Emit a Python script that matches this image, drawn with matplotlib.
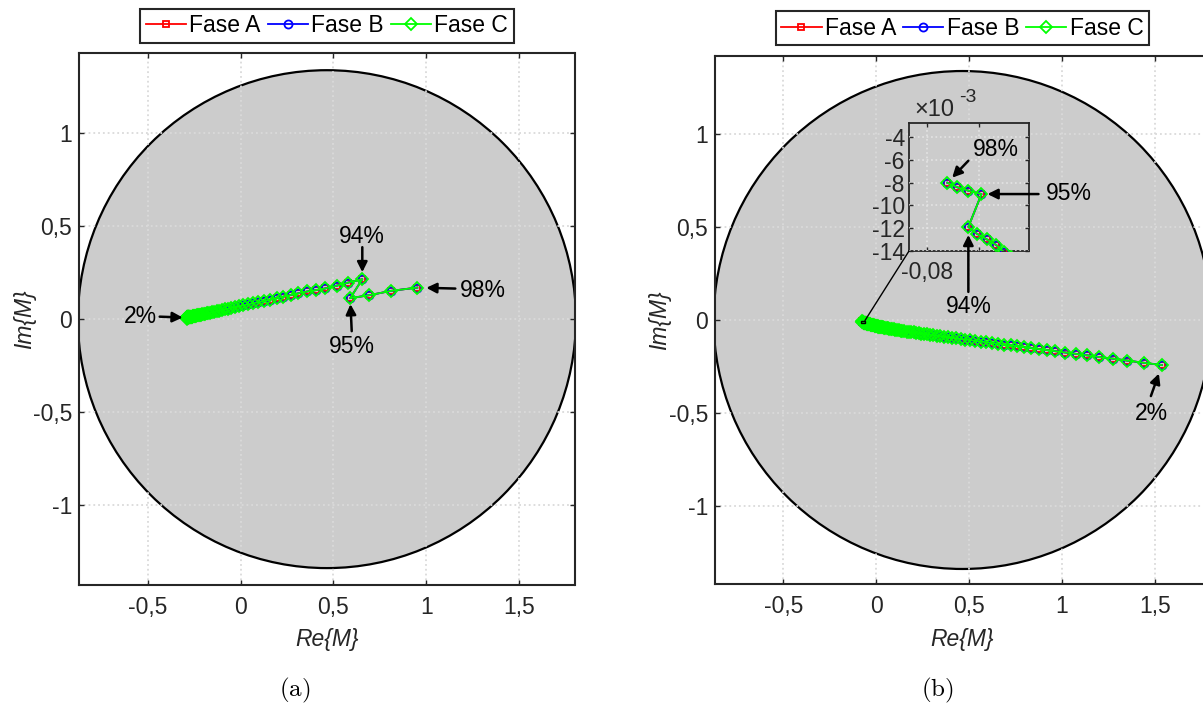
import matplotlib
matplotlib.use("Agg")
import matplotlib.pyplot as plt
from matplotlib.patches import Circle, Rectangle, ConnectionPatch

plt.rcParams['font.family'] = ['Liberation Sans', 'DejaVu Sans']

# ---------------------------------------------------------------- data
# loading percentage of each point (2 % ... 98 %)
pct = list(range(2, 99))

# (a) trajectory of M in the complex plane
re_a = [-0.290, -0.290, -0.290, -0.290, -0.290, -0.290, -0.290, -0.290, -0.290, -0.290,
        -0.289, -0.289, -0.289, -0.289, -0.289, -0.289, -0.288, -0.288, -0.288, -0.288,
        -0.287, -0.287, -0.287, -0.287, -0.286, -0.286, -0.286, -0.285, -0.285, -0.285,
        -0.284, -0.284, -0.283, -0.283, -0.282, -0.282, -0.281, -0.280, -0.279, -0.278,
        -0.277, -0.276, -0.275, -0.273, -0.272, -0.270, -0.268, -0.266, -0.263, -0.261,
        -0.258, -0.255, -0.252, -0.248, -0.244, -0.240, -0.235, -0.230, -0.225, -0.219,
        -0.213, -0.206, -0.199, -0.191, -0.183, -0.173, -0.164, -0.153, -0.141, -0.129,
        -0.115, -0.101, -0.085, -0.068, -0.050, -0.030, -0.009, 0.014, 0.039, 0.065,
        0.094, 0.125, 0.158, 0.194, 0.230, 0.270, 0.311, 0.359, 0.404, 0.454,
        0.517, 0.580, 0.655, 0.590, 0.693, 0.808, 0.951]
im_a = [0.008, 0.008, 0.008, 0.008, 0.008, 0.008, 0.008, 0.008, 0.008, 0.008,
        0.008, 0.008, 0.008, 0.008, 0.008, 0.008, 0.008, 0.008, 0.008, 0.008,
        0.008, 0.008, 0.008, 0.008, 0.009, 0.009, 0.009, 0.009, 0.009, 0.009,
        0.009, 0.009, 0.009, 0.009, 0.010, 0.010, 0.010, 0.010, 0.010, 0.010,
        0.011, 0.011, 0.011, 0.012, 0.012, 0.012, 0.013, 0.013, 0.014, 0.014,
        0.015, 0.015, 0.016, 0.017, 0.018, 0.019, 0.020, 0.021, 0.022, 0.023,
        0.025, 0.026, 0.028, 0.029, 0.031, 0.033, 0.035, 0.038, 0.040, 0.043,
        0.046, 0.049, 0.053, 0.056, 0.060, 0.064, 0.069, 0.074, 0.079, 0.085,
        0.091, 0.098, 0.105, 0.113, 0.121, 0.130, 0.139, 0.149, 0.156, 0.165,
        0.180, 0.197, 0.215, 0.113, 0.129, 0.152, 0.170]

# (b) trajectory of M in the complex plane
re_b = [1.538, 1.439, 1.349, 1.274, 1.199, 1.134, 1.073, 1.019, 0.965, 0.919,
        0.874, 0.835, 0.795, 0.759, 0.723, 0.687, 0.655, 0.623, 0.593, 0.562,
        0.533, 0.506, 0.480, 0.455, 0.431, 0.409, 0.387, 0.366, 0.346, 0.327,
        0.308, 0.291, 0.274, 0.258, 0.243, 0.228, 0.214, 0.201, 0.188, 0.175,
        0.164, 0.152, 0.141, 0.131, 0.121, 0.112, 0.103, 0.094, 0.086, 0.078,
        0.070, 0.063, 0.056, 0.049, 0.043, 0.037, 0.031, 0.026, 0.021, 0.016,
        0.011, 0.007, 0.003, 0.000, -0.0040, -0.0080, -0.0120, -0.0158, -0.0194, -0.0228,
        -0.0260, -0.0290, -0.0320, -0.0349, -0.0376, -0.0402, -0.0427, -0.0451, -0.0474, -0.0496,
        -0.0517, -0.0537, -0.0556, -0.0574, -0.0591, -0.0608, -0.0624, -0.0639, -0.0654, -0.0668,
        -0.0686, -0.0705, -0.0721, -0.0696, -0.0721, -0.0742, -0.0761]
im_b = [-0.2425, -0.230, -0.218, -0.208, -0.199, -0.190, -0.182, -0.175, -0.168, -0.162,
        -0.156, -0.151, -0.146, -0.141, -0.137, -0.132, -0.128, -0.124, -0.120, -0.116,
        -0.112, -0.108, -0.105, -0.102, -0.099, -0.096, -0.093, -0.090, -0.087, -0.085,
        -0.082, -0.080, -0.078, -0.075, -0.073, -0.071, -0.069, -0.067, -0.065, -0.064,
        -0.062, -0.060, -0.058, -0.057, -0.055, -0.054, -0.052, -0.051, -0.049, -0.048,
        -0.047, -0.045, -0.044, -0.043, -0.041, -0.040, -0.039, -0.038, -0.037, -0.036,
        -0.035, -0.034, -0.033, -0.032, -0.031, -0.030, -0.029, -0.028, -0.0275, -0.0265,
        -0.0257, -0.0249, -0.0240, -0.0230, -0.0225, -0.0219, -0.0212, -0.0204, -0.0197, -0.0191,
        -0.0185, -0.0178, -0.0173, -0.0166, -0.0161, -0.0156, -0.0151, -0.0146, -0.0141, -0.0135,
        -0.0130, -0.0125, -0.0119, -0.0090, -0.0087, -0.0084, -0.0080]

phases = ['Fase A', 'Fase B', 'Fase C']
phase_colors = ['#ff0000', '#0000ff', '#00ff00']
phase_markers = ['s', 'o', 'D']
phase_msize = [5.0, 5.8, 5.8]

# stability region
circle_center = 0.4645
circle_radius = 1.34

xticks = [-0.5, 0, 0.5, 1, 1.5]
xtick_labels = ['-0,5', '0', '0,5', '1', '1,5']
yticks = [-1, -0.5, 0, 0.5, 1]
ytick_labels = ['-1', '-0,5', '0', '0,5', '1']

inset_xticks = [-0.08, -0.07]
inset_xtick_labels = ['-0,08', '']
inset_yticks = [-0.014, -0.012, -0.010, -0.008, -0.006, -0.004]
inset_ytick_labels = ['-14', '-12', '-10', '-8', '-6', '-4']
inset_xlim = (-0.0834, -0.0605)
inset_ylim = (-0.01403, -0.00275)

# ---------------------------------------------------------------- figure
W, H = 1203, 703
FS = 16.5
DARK = '#262626'
fig = plt.figure(figsize=(W / 100, H / 100), dpi=100)


def px_box(x0, x1, ytop, ybot):
    return [x0 / W, 1 - ybot / H, (x1 - x0) / W, (ybot - ytop) / H]


def plot_phases(ax, re, im):
    for name, c, m, ms in zip(phases, phase_colors, phase_markers, phase_msize):
        ax.plot(re, im, color=c, lw=1.3, marker=m, ms=ms, mfc='none', mec=c,
                mew=1.3, zorder=3, label=name)


def style_main(ax, ylim, xlab_y, ylab_x):
    ax.set_xlim(-0.868, 1.797)
    ax.set_ylim(*ylim)
    ax.add_patch(Circle((circle_center, 0), circle_radius, facecolor='#cccccc',
                        edgecolor='black', lw=1.6, zorder=1))
    ax.set_xticks(xticks)
    ax.set_xticklabels(xtick_labels)
    ax.set_yticks(yticks)
    ax.set_yticklabels(ytick_labels)
    ax.tick_params(direction='in', length=3.6, width=1.0, top=True, right=True,
                   labelsize=FS, colors=DARK)
    ax.tick_params(axis='x', pad=8)
    ax.tick_params(axis='y', pad=5)
    ax.grid(True, color='#dadada', ls=':', lw=1.3)
    ax.set_axisbelow(False)
    for s in ax.spines.values():
        s.set_linewidth(1.5)
        s.set_color(DARK)
        s.set_zorder(5)
    xl = ax.set_xlabel('Re{M}', fontsize=FS, fontstyle='italic', color=DARK)
    ax.xaxis.set_label_coords(0.5, xlab_y)
    xl.set_va('center')
    yl = ax.set_ylabel('Im{M}', fontsize=FS, fontstyle='italic', color=DARK)
    ax.yaxis.set_label_coords(ylab_x, 0.5)
    yl.set_va('center')
    leg = ax.legend(loc='lower center', bbox_to_anchor=(0.5, 1.0), ncol=3,
                    fontsize=FS, frameon=True, fancybox=False, framealpha=1,
                    edgecolor=DARK, handlelength=1.75, handletextpad=0.15,
                    columnspacing=0.3, borderpad=0.25, borderaxespad=0.45)
    leg.get_frame().set_linewidth(1.5)


def pointer(ax, re, im, p, tail, gap_px, text_off):
    i = pct.index(p)
    xy = (re[i], im[i])
    ax.annotate('', xy=xy, xytext=tail, textcoords='offset pixels',
                arrowprops=dict(arrowstyle='-|>', color='k', lw=1.8,
                                mutation_scale=15, shrinkA=0,
                                shrinkB=gap_px * 0.72),
                annotation_clip=False, zorder=6)
    ax.annotate(f'{p}%', xy=xy, xytext=text_off, textcoords='offset pixels',
                ha='center', va='center', fontsize=FS, color='k',
                annotation_clip=False, zorder=6)


# ------------------------------------------------------------ panel (a)
ax_a = fig.add_axes(px_box(79.3, 574.5, 53.3, 585.0))
plot_phases(ax_a, re_a, im_a)
style_main(ax_a, (-1.431, 1.431), -0.103, -0.110)
pointer(ax_a, re_a, im_a, 2, (-27, 1), 4, (-46, 1))
pointer(ax_a, re_a, im_a, 94, (0, 32), 7, (0, 43))
pointer(ax_a, re_a, im_a, 95, (1.5, -33), 6, (1.5, -48))
pointer(ax_a, re_a, im_a, 98, (38, -1), 9, (66, -3))

# ------------------------------------------------------------ panel (b)
ax_b = fig.add_axes(px_box(715.0, 1210.0, 55.7, 584.3))
plot_phases(ax_b, re_b, im_b)
style_main(ax_b, (-1.4225, 1.4225), -0.105, -0.111)
pointer(ax_b, re_b, im_b, 2, (-11, -31), 9, (-10, -48))

# zoom window on the end of the trajectory
ax_b.add_patch(Rectangle((inset_xlim[0], inset_ylim[0]),
                         inset_xlim[1] - inset_xlim[0],
                         inset_ylim[1] - inset_ylim[0],
                         fill=False, ec='k', lw=1.0, zorder=6))

ax_in = fig.add_axes(px_box(909.0, 1029.3, 123.3, 251.0))
ax_in.set_facecolor('#cccccc')
plot_phases(ax_in, re_b, im_b)
ax_in.set_xlim(*inset_xlim)
ax_in.set_ylim(*inset_ylim)
ax_in.set_xticks(inset_xticks)
ax_in.set_xticklabels(inset_xtick_labels)
ax_in.set_yticks(inset_yticks)
ax_in.set_yticklabels(inset_ytick_labels)
ax_in.tick_params(direction='in', length=3.0, width=1.0, top=True, right=True,
                  labelsize=FS, colors=DARK)
ax_in.tick_params(axis='x', pad=7)
ax_in.tick_params(axis='y', pad=3)
ax_in.grid(True, color='#e4e4e4', ls=':', lw=1.2)
ax_in.set_axisbelow(False)
for s in ax_in.spines.values():
    s.set_linewidth(1.3)
    s.set_color(DARK)
fig.text(934 / W, 1 - 110 / H, '×10', fontsize=FS + 0.5, color=DARK,
         ha='center', va='center')
fig.text(968 / W, 1 - 97 / H, '-3', fontsize=14, color=DARK,
         ha='center', va='center')

pointer(ax_in, re_b, im_b, 98, (21, 22), 7, (49, 33))
pointer(ax_in, re_b, im_b, 95, (57, 0), 6, (87, 1))
pointer(ax_in, re_b, im_b, 94, (0, -65), 8, (0, -80))

con = ConnectionPatch(xyA=(inset_xlim[0], inset_ylim[0]), coordsA=ax_in.transData,
                      xyB=(inset_xlim[1], inset_ylim[1]), coordsB=ax_b.transData,
                      color='k', lw=1.0)
fig.add_artist(con)

# sub-captions
fig.text(295 / W, 1 - 690 / H, r'$\mathrm{(a)}$', math_fontfamily='cm',
         fontsize=18, ha='center', va='center')
fig.text(937 / W, 1 - 690 / H, r'$\mathrm{(b)}$', math_fontfamily='cm',
         fontsize=18, ha='center', va='center')

fig.savefig('out.png', dpi=100)
